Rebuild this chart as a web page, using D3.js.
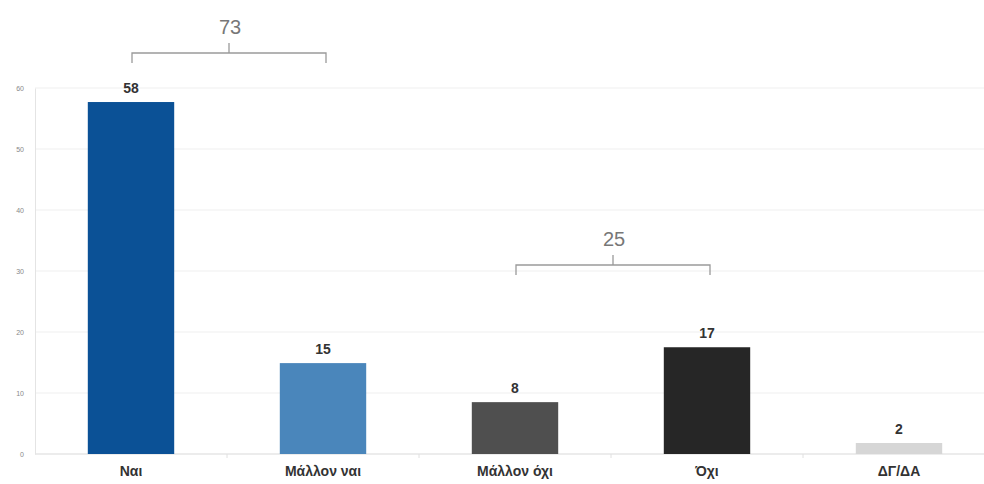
<!DOCTYPE html>
<html><head><meta charset="utf-8">
<script src="https://cdn.jsdelivr.net/npm/d3@7"></script>
<style>html,body{margin:0;padding:0;background:#fff;overflow:hidden}</style>
</head><body>
<svg id="c" width="984" height="484"></svg>
<script>
const categories = ["Ναι","Μάλλον ναι","Μάλλον όχι","Όχι","ΔΓ/ΔΑ"];
const values = [57.7, 14.9, 8.5, 17.5, 1.8];
const valueLabels = ["58","15","8","17","2"];
const colors = ["#0b5196","#4a86bb","#4f4f4f","#262626","#d6d6d6"];
const yTicks = [0,10,20,30,40,50,60];
const groupFrom = ["Ναι","Μάλλον όχι"];
const groupTo = ["Μάλλον ναι","Όχι"];
const groupLabels = ["73","25"];

const svg = d3.select("#c");
const x = d3.scaleBand().domain(categories).range([35, 995]).paddingInner(0.55).paddingOuter(0.275);
const y = d3.scaleLinear().domain([0, 60]).range([454, 88]);
const font = "'Liberation Sans Narrow','Arial Narrow','Liberation Sans',sans-serif";
// bracket vertical placement (layout only, in pixels)
const bracketY = [53, 265];

svg.append("g").selectAll("line").data(yTicks).join("line")
  .attr("x1", 35).attr("x2", 984).attr("y1", d=>y(d)).attr("y2", d=>y(d))
  .attr("stroke", d=> d===0 ? "#d9d9d9" : "#efefef").attr("stroke-width",1);
const ya = svg.append("g").attr("transform","translate(35,0)").call(d3.axisLeft(y).tickValues(yTicks).tickSize(0).tickPadding(11));
ya.select(".domain").attr("stroke","#e4e4e4");
ya.selectAll("text").attr("font-family",font).attr("font-size",7).attr("fill","#888");
const xa = svg.append("g").attr("transform","translate(0,454)").call(d3.axisBottom(x).tickSize(0).tickPadding(12));
xa.select(".domain").remove();
xa.selectAll("text").attr("font-family",font).attr("font-size",14).attr("font-weight","bold").attr("fill","#333");
svg.append("g").selectAll("line").data(categories.slice(1)).join("line")
  .attr("x1", d=>x(d)-x.step()*x.paddingInner()/2).attr("x2", d=>x(d)-x.step()*x.paddingInner()/2)
  .attr("y1",454).attr("y2",458).attr("stroke","#e0e0e0");

svg.append("g").selectAll("rect").data(values).join("rect")
  .attr("x",(d,i)=>x(categories[i])).attr("width",x.bandwidth())
  .attr("y",d=>y(d)).attr("height",d=>y(0)-y(d))
  .attr("fill",(d,i)=>colors[i]);
svg.append("g").selectAll("text").data(values).join("text")
  .attr("x",(d,i)=>x(categories[i])+x.bandwidth()/2).attr("y",d=>y(d)-9)
  .attr("text-anchor","middle").attr("font-family",font).attr("font-size",14).attr("font-weight","bold").attr("fill","#333")
  .text((d,i)=>valueLabels[i]);

groupLabels.forEach((lab,k)=>{
  const x0 = x(groupFrom[k])+x.bandwidth()/2+1, x1 = x(groupTo[k])+x.bandwidth()/2+3;
  const by = bracketY[k];
  const cx = (x0+x1)/2;
  svg.append("path")
    .attr("d",`M${x0},${by+10}V${by}H${x1}V${by+10}M${cx},${by}V${by-10}`)
    .attr("fill","none").attr("stroke","#9a9a9a").attr("stroke-width",1.3);
  svg.append("text").attr("x",cx+1).attr("y",by-19).attr("text-anchor","middle")
    .attr("font-family",font).attr("font-size",20).attr("fill","#777").text(lab);
});
</script>
</body></html>
